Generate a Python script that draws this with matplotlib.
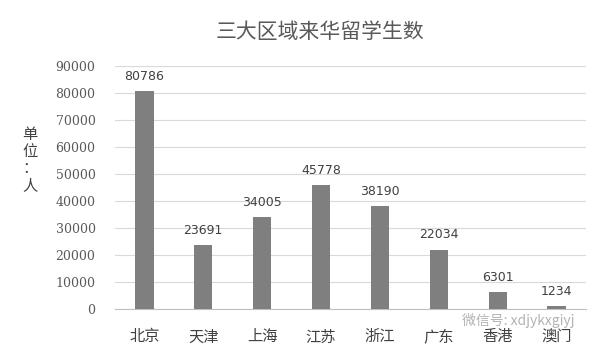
import matplotlib
matplotlib.use("Agg")
import matplotlib.pyplot as plt

plt.rcParams['font.family'] = ['Noto Sans CJK SC', 'DejaVu Sans']

regions = ["北京", "天津", "上海", "江苏", "浙江", "广东", "香港", "澳门"]
students = [80786, 23691, 34005, 45778, 38190, 22034, 6301, 1234]
yticks = [0, 10000, 20000, 30000, 40000, 50000, 60000, 70000, 80000, 90000]

fig = plt.figure(figsize=(6.02, 3.53), dpi=100)
ax = fig.add_axes([115/602, 1 - 309/353, 471/602, (309 - 66)/353])

x = range(len(regions))
ax.bar(x, students, width=0.31, color="#7f7f7f", zorder=3)
for xi, v in zip(x, students):
    ax.text(xi, v + 3000, str(v), ha="center", va="bottom", fontsize=9,
            family="DejaVu Sans", color="#404040")

ax.set_ylim(0, 90000)
ax.set_xlim(-0.5, len(regions) - 0.5)
ax.set_yticks(yticks)
ax.set_yticklabels([str(t) for t in yticks], family="DejaVu Serif",
                   fontsize=9, color="#595959")
ax.set_xticks(list(x))
ax.set_xticklabels(regions, fontsize=11, color="#404040")
ax.tick_params(axis="both", length=0)
ax.tick_params(axis="y", pad=14)
ax.tick_params(axis="x", pad=14)
ax.yaxis.grid(True, color="#d9d9d9", linewidth=0.8, zorder=0)
for s in ["top", "right", "left"]:
    ax.spines[s].set_visible(False)
ax.spines["bottom"].set_color("#bfbfbf")

fig.text(320/602, 1 - 32/353, "三大区域来华留学生数", ha="center", va="center",
         fontsize=15, color="#595959")
fig.text(30/602, 1 - 160/353, "单\n位\n：\n人", ha="center", va="center",
         fontsize=11, color="#404040", linespacing=1.0)
fig.text(462/602, 1 - 321/353, "微信号: xdjykxgiyj", ha="left", va="center",
         fontsize=10, color="#a0a0a0", alpha=0.8)

fig.savefig("out.png", dpi=100)
